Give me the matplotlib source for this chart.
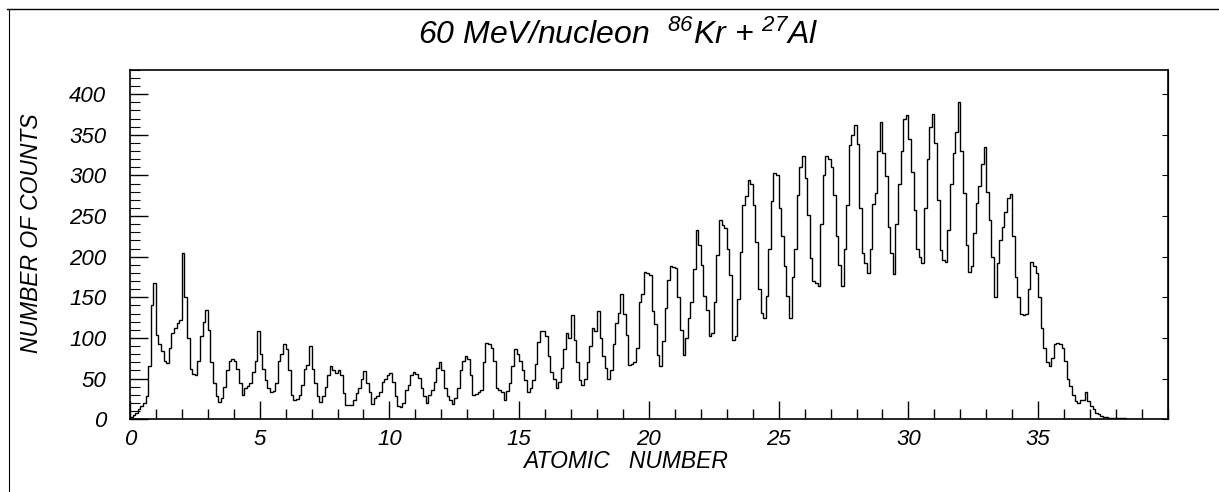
import numpy as np
import matplotlib
matplotlib.use("Agg")
import matplotlib.pyplot as plt
from matplotlib.ticker import MultipleLocator, FixedLocator, NullFormatter
from matplotlib.lines import Line2D

# histogram bin width in atomic number units
BIN_WIDTH = 0.1

# counts per 0.1 bin (Z = 0.0 ... 9.9)
counts_z00_09 = [
    3, 5, 8, 12, 16, 20, 28, 65, 140, 168,
    104, 92, 84, 72, 69, 88, 106, 112, 118, 122,
    204, 150, 100, 62, 56, 55, 72, 102, 120, 134,
    110, 70, 45, 28, 21, 26, 40, 60, 72, 74,
    72, 62, 45, 30, 38, 41, 44, 58, 72, 108,
    80, 62, 48, 38, 33, 35, 45, 72, 80, 92,
    86, 60, 30, 24, 25, 30, 42, 62, 67, 90,
    62, 45, 28, 21, 28, 40, 55, 66, 60, 57,
    60, 55, 32, 17, 17, 18, 23, 32, 38, 50,
    59, 45, 34, 19, 26, 29, 33, 46, 50, 54,
]
# Z = 10.0 ... 19.9
counts_z10_19 = [
    57, 46, 28, 16, 15, 20, 36, 42, 55, 58,
    56, 51, 38, 29, 20, 30, 36, 46, 63, 71,
    60, 38, 29, 24, 19, 26, 38, 60, 72, 78,
    74, 55, 30, 31, 34, 36, 70, 94, 92, 88,
    72, 38, 36, 34, 24, 35, 45, 66, 86, 80,
    72, 60, 48, 34, 38, 48, 68, 95, 108, 109,
    102, 78, 58, 50, 38, 46, 63, 86, 106, 100,
    128, 98, 70, 48, 42, 50, 70, 90, 112, 108,
    133, 100, 78, 63, 50, 60, 92, 119, 131, 154,
    129, 104, 67, 68, 70, 88, 144, 154, 181, 180,
]
# Z = 20.0 ... 29.9
counts_z20_29 = [
    178, 133, 117, 79, 65, 96, 137, 171, 188, 187,
    186, 150, 110, 79, 100, 125, 144, 185, 233, 214,
    190, 152, 135, 102, 106, 144, 202, 245, 239, 235,
    210, 177, 98, 102, 148, 206, 264, 275, 295, 290,
    264, 218, 160, 131, 125, 152, 210, 268, 303, 301,
    260, 226, 189, 152, 125, 175, 210, 276, 311, 324,
    297, 251, 198, 170, 168, 164, 240, 300, 324, 320,
    311, 276, 225, 190, 164, 210, 264, 338, 350, 362,
    339, 260, 205, 192, 180, 210, 265, 279, 330, 366,
    328, 299, 237, 205, 179, 240, 290, 330, 370, 375,
]
# Z = 30.0 ... 39.9
counts_z30_39 = [
    345, 304, 258, 210, 200, 192, 260, 320, 360, 376,
    340, 270, 208, 196, 194, 233, 290, 328, 353, 390,
    330, 279, 214, 181, 188, 229, 266, 287, 314, 335,
    280, 245, 200, 150, 192, 221, 237, 255, 272, 277,
    225, 175, 150, 130, 128, 130, 160, 193, 188, 180,
    150, 112, 88, 70, 65, 75, 92, 94, 92, 88,
    72, 50, 41, 30, 22, 20, 24, 24, 34, 22,
    16, 12, 8, 6, 4, 3, 3, 2, 2, 2,
    1, 1, 1, 1, 0, 0, 0, 0, 0, 0,
    0, 0, 0, 0, 0, 0, 0, 0, 0, 0,
]

x_labelled_ticks = [0, 5, 10, 15, 20, 25, 30, 35]

counts = np.array(counts_z00_09 + counts_z10_19 + counts_z20_29 + counts_z30_39)
edges = np.round(np.arange(len(counts) + 1) * BIN_WIDTH, 3)

plt.rcParams["font.family"] = ["Liberation Sans", "DejaVu Sans"]
plt.rcParams["font.style"] = "italic"
plt.rcParams["mathtext.fontset"] = "custom"
plt.rcParams["mathtext.rm"] = "Liberation Sans:italic"
plt.rcParams["mathtext.it"] = "Liberation Sans:italic"

fig = plt.figure(figsize=(12.19, 4.92), dpi=100)
ax = fig.add_axes([0.1066, 0.148, 0.8515, 0.710])

ax.stairs(counts, edges, color="black", linewidth=1.0)

ax.set_xlim(0, 40)
ax.set_ylim(0, 430)

ax.xaxis.set_major_locator(FixedLocator(x_labelled_ticks))
ax.xaxis.set_minor_locator(MultipleLocator(1))
ax.yaxis.set_major_locator(MultipleLocator(50))
ax.yaxis.set_minor_locator(MultipleLocator(10))

ax.tick_params(axis="x", which="major", direction="in", length=13, width=1.0,
               labelsize=16, pad=7)
ax.tick_params(axis="x", which="minor", direction="in", length=7, width=1.0)
ax.tick_params(axis="y", which="major", direction="in", length=13, width=1.0,
               labelsize=16, pad=17)
ax.tick_params(axis="y", which="minor", direction="in", length=7, width=0.8)

# small unlabelled marks on the right frame
right = ax.secondary_yaxis("right")
right.yaxis.set_major_locator(MultipleLocator(50))
right.yaxis.set_major_formatter(NullFormatter())
right.tick_params(direction="in", length=4, width=0.8)

for s in ax.spines.values():
    s.set_linewidth(1.2)

# axis titles placed as in the original (not centred on the axes)
fig.text(0.513, 0.063, "ATOMIC   NUMBER", ha="center", va="center", fontsize=16.5)
fig.text(0.026, 0.526, "NUMBER OF COUNTS", ha="center", va="center",
         rotation=90, fontsize=16.5)
fig.text(0.507, 0.929, r"60 MeV/nucleon  $^{86}$Kr + $^{27}$Al",
         ha="center", va="center", fontsize=23)

# scanned page frame (top and left edges)
fig.add_artist(Line2D([0.006, 1.0], [0.982, 0.982], color="black", linewidth=1.0,
                      transform=fig.transFigure))
fig.add_artist(Line2D([0.007, 0.007], [0.0, 0.982], color="black", linewidth=0.8,
                      transform=fig.transFigure))

fig.savefig("out.png", dpi=100)
plt.close(fig)
